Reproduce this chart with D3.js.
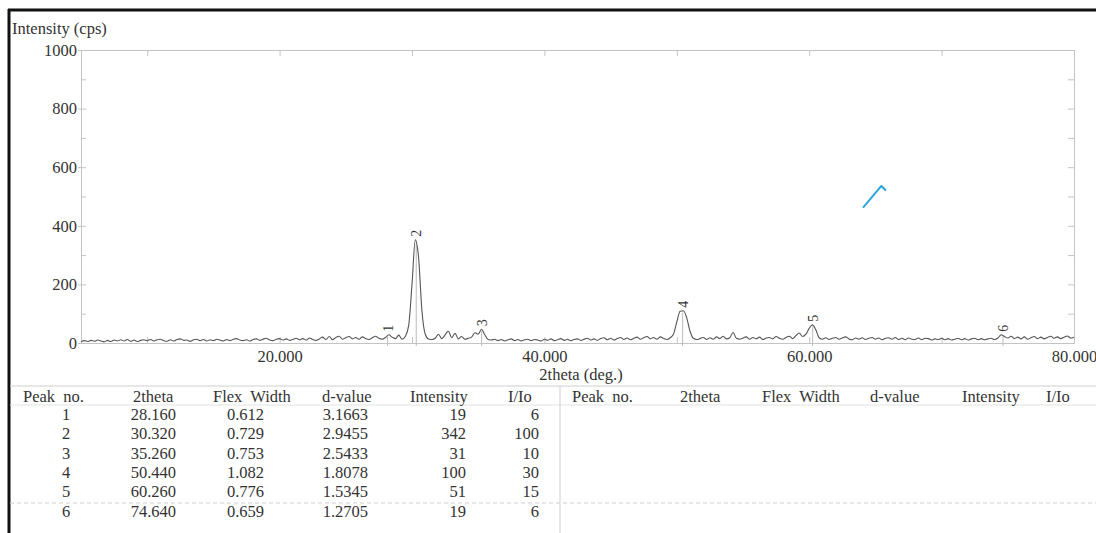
<!DOCTYPE html>
<html>
<head>
<meta charset="utf-8">
<title>XRD pattern</title>
<script src="https://d3js.org/d3.v7.min.js"></script>
<style>
  body { margin: 0; background: #fff; }
  svg { display: block; }
  text { font-family: "Liberation Serif", "Times New Roman", serif; fill: #333; }
</style>
</head>
<body>
<svg id="chart" width="1096" height="533"></svg>
<script>
// scan parameters (deg 2theta)
const scanStart = 5, scanStep = 0.25;
// counts per step (one row = one degree)
const counts = [
  4, 8, 5, 9,      6, 10, 7, 4,     9, 5, 10, 7,     11, 7, 12, 6,    10, 5, 9, 11,    // 5-9
  8, 12, 7, 11,    13, 8, 6, 11,    7, 12, 14, 9,    10, 6, 11, 13,   8, 12, 7, 11,    // 10-14
  8, 13, 10, 7,    12, 8, 13, 15,   10, 8, 11, 7,    12, 14, 9, 13,   16, 10, 8, 13,   // 15-19
  15, 10, 14, 9,   12, 16, 11, 15,  10, 17, 12, 9,   14, 20, 12, 22,  11, 19, 23, 13,  // 20-24
  18, 22, 14, 19,  13, 21, 15, 12,  18, 23, 16, 13,  19, 28, 20, 15,  27, 13, 23, 60,  // 25-29
  200, 352, 290, 110, 30, 14, 12, 16, 30, 15, 28, 40, 18, 33, 14, 22, 13, 16, 20, 35, // 30-34
  30, 47, 28, 12,  10, 13, 8, 12,   7, 11, 14, 8,    12, 7, 11, 13,   8, 12, 10, 7,    // 35-39
  13, 9, 14, 8,    11, 15, 9, 13,   8, 12, 14, 9,    13, 16, 10, 14,  9, 15, 18, 11,  // 40-44
  16, 10, 15, 19,  12, 17, 11, 16,  20, 13, 18, 22,  14, 19, 13, 21,  16, 12, 18, 30,  // 45-49
  72, 108, 110, 86, 40, 16, 12, 15, 19, 12, 18, 13,  21, 15, 23, 14,  18, 36, 16, 13,  // 50-54
  17, 21, 13, 19,  14, 20, 12, 17,  19, 14, 22, 16,  13, 19, 23, 15,  25, 34, 22, 30,  // 55-59
  50, 62, 45, 18,  13, 18, 12, 16,  19, 13, 17, 21,  14, 11, 17, 13,  18, 12, 16, 19,  // 60-64
  13, 17, 11, 16,  18, 13, 19, 12,  16, 11, 17, 13,  12, 17, 11, 16,  15, 10, 14, 12,  // 65-69
  16, 11, 15, 10,  13, 16, 11, 15,  10, 14, 16, 11,  15, 11, 14, 16,  12, 17, 28, 22,  // 70-74
  17, 23, 15, 20,  14, 21, 13, 18,  22, 15, 20, 14,  19, 23, 16, 21,  15, 20, 24, 17,  // 75-79
  20
];

// peak table
const peakNo = ["1", "2", "3", "4", "5", "6"];
const peakTheta = ["28.160", "30.320", "35.260", "50.440", "60.260", "74.640"];
const flexWidth = ["0.612", "0.729", "0.753", "1.082", "0.776", "0.659"];
const dValue = ["3.1663", "2.9455", "2.5433", "1.8078", "1.5345", "1.2705"];
const peakIntensity = ["19", "342", "31", "100", "51", "19"];
const relIntensity = ["6", "100", "10", "30", "15", "6"];

const tableHeaders = ["Peak  no.", "2theta", "Flex  Width", "d-value", "Intensity", "I/Io"];

const xTickLabels = [20, 40, 60, 80];
const yTickLabels = [0, 200, 400, 600, 800, 1000];

// pen mark on the scan (2theta, cps)
const penMark = [[64.1, 464], [65.45, 536], [65.75, 522]];

const scan = counts.map((c, i) => ({ t: scanStart + i * scanStep, c: c }));

const svg = d3.select("#chart");
const x = d3.scaleLinear([5, 80], [81, 1074]);
const y = d3.scaleLinear([0, 1000], [343, 50]);
const frame = "#c4c4c4";
const fs = 16.5;

// outer border (top / left)
svg.append("line").attr("x1", 8).attr("x2", 1096).attr("y1", 10).attr("y2", 10)
  .attr("stroke", "#111").attr("stroke-width", 3);
svg.append("line").attr("x1", 9).attr("x2", 9).attr("y1", 9).attr("y2", 533)
  .attr("stroke", "#111").attr("stroke-width", 3);

// plot frame
function styleAxis(g) {
  g.selectAll("path.domain").attr("stroke", frame);
  g.selectAll(".tick line").attr("stroke", frame);
  g.selectAll("text").attr("font-family", null).attr("font-size", fs).attr("fill", "#333");
}
const minorY = d3.range(0, 1001, 100);
const minorX = d3.range(10, 80, 10);

svg.append("g").attr("transform", "translate(81,0)")
  .call(d3.axisLeft(y).tickValues(yTickLabels).tickSize(3).tickPadding(1).tickFormat(d3.format("d")))
  .call(styleAxis);
svg.append("g").attr("transform", "translate(81,0)")
  .call(d3.axisRight(y).tickValues(minorY).tickSize(5).tickFormat(""))
  .call(styleAxis);
svg.append("g").attr("transform", "translate(1074,0)")
  .call(d3.axisLeft(y).tickValues(minorY).tickSize(6).tickFormat(""))
  .call(styleAxis);
svg.append("g").attr("transform", "translate(0,50)")
  .call(d3.axisBottom(x).tickValues(minorX).tickSize(6).tickFormat(""))
  .call(styleAxis);
svg.append("g").attr("transform", "translate(0,343)")
  .call(d3.axisTop(x).tickValues(minorX).tickSize(6).tickFormat(""))
  .call(styleAxis);
svg.append("g").attr("transform", "translate(0,343)")
  .call(d3.axisBottom(x).tickValues(xTickLabels).tickSize(0).tickPadding(7).tickFormat(d3.format(".3f")))
  .call(styleAxis)
  .call(g => g.select("path.domain").remove());

svg.append("text").attr("x", 12).attr("y", 34).attr("font-size", fs).text("Intensity (cps)");
svg.append("text").attr("x", 581).attr("y", 380).attr("font-size", fs)
  .attr("text-anchor", "middle").text("2theta (deg.)");

// peak marker lines
const peakTop = peakTheta.map(p => {
  const t = +p;
  return d3.max(scan.filter(d => Math.abs(d.t - t) <= 0.3), d => d.c);
});
svg.append("g").selectAll("line").data(peakTheta).join("line")
  .attr("x1", d => x(+d)).attr("x2", d => x(+d))
  .attr("y1", y(0) + 3).attr("y2", (d, i) => y(peakTop[i]) + 2)
  .attr("stroke", "#bbb").attr("stroke-width", 1);

// scan curve
const scanLine = d3.line().x(d => x(d.t)).y(d => y(d.c)).curve(d3.curveMonotoneX);
svg.append("path").datum(scan)
  .attr("fill", "none").attr("stroke", "#555").attr("stroke-width", 1.1)
  .attr("d", scanLine);

// peak numbers
svg.append("g").selectAll("text").data(peakNo).join("text")
  .attr("transform", (d, i) => `translate(${x(+peakTheta[i])},${y(peakTop[i]) - 3}) rotate(-90)`)
  .attr("dy", "0.35em").attr("font-size", 14).attr("fill", "#444").text(d => d);

// pen mark
svg.append("path").datum(penMark)
  .attr("fill", "none").attr("stroke", "#2ba6d9").attr("stroke-width", 2)
  .attr("stroke-linecap", "round").attr("stroke-linejoin", "round")
  .attr("d", d3.line().x(d => x(d[0])).y(d => y(d[1])));

// peak table
const rule = "#cfcfcf";
svg.append("line").attr("x1", 10).attr("x2", 1096).attr("y1", 386).attr("y2", 386).attr("stroke", rule);
svg.append("line").attr("x1", 10).attr("x2", 1096).attr("y1", 405).attr("y2", 405).attr("stroke", "#e2e2e2");
svg.append("line").attr("x1", 560).attr("x2", 560).attr("y1", 386).attr("y2", 533).attr("stroke", rule);
svg.append("line").attr("x1", 10).attr("x2", 1096).attr("y1", 503).attr("y2", 503)
  .attr("stroke", rule).attr("stroke-dasharray", "4,3");

const headX = [23, 133, 213, 322, 410, 508];
const headXRight = [572, 680, 762, 870, 962, 1046];
[headX, headXRight].forEach(hx => {
  svg.append("g").selectAll("text").data(tableHeaders).join("text")
    .attr("x", (d, i) => hx[i]).attr("y", 402).attr("font-size", fs)
    .style("white-space", "pre").text(d => d);
});

const rowY = d3.range(peakNo.length).map(i => 420 + i * 19.3);
const cols = [
  { v: peakNo, x: 66, a: "middle" },
  { v: peakTheta, x: 176, a: "end" },
  { v: flexWidth, x: 264, a: "end" },
  { v: dValue, x: 368, a: "end" },
  { v: peakIntensity, x: 466, a: "end" },
  { v: relIntensity, x: 539, a: "end" }
];
cols.forEach(c => {
  svg.append("g").selectAll("text").data(c.v).join("text")
    .attr("x", c.x).attr("y", (d, i) => rowY[i]).attr("text-anchor", c.a)
    .attr("font-size", fs).text(d => d);
});
</script>
</body>
</html>
